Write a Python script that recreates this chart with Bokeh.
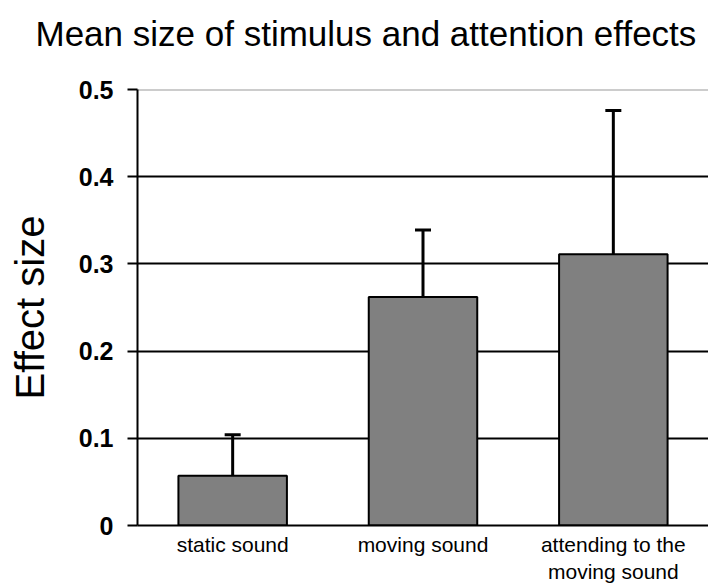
from bokeh.plotting import figure
from bokeh.models import ColumnDataSource, Whisker, TeeHead, FactorRange, Range1d, FixedTicker, Span, Title
from bokeh.embed import file_html
from bokeh.resources import INLINE

categories = ["static sound", "moving sound", "attending to the\nmoving sound"]
means = [0.057, 0.262, 0.311]
errors = [0.047, 0.077, 0.165]
y_ticks = [0, 0.1, 0.2, 0.3, 0.4, 0.5]
y_tick_labels = ["0", "0.1", "0.2", "0.3", "0.4", "0.5"]
title_text = "Mean size of stimulus and attention effects"
y_label_text = "Effect size"

upper = [m + e for m, e in zip(means, errors)]
src = ColumnDataSource(dict(cat=categories, mean=means, upper=upper))

p = figure(width=708, height=586, x_range=FactorRange(*categories, range_padding=0),
           y_range=Range1d(0, 0.5), output_backend="svg", toolbar_location=None,
           min_border_left=137, min_border_right=0, min_border_top=89, min_border_bottom=61)
p.title = None
# spacer panel next to the frame, then the real title above it
p.add_layout(Title(text=" ", text_font_size="2px", standoff=33), "above")
p.add_layout(Title(text=title_text, align="left", offset=-102,
                   text_font="Liberation Sans", text_font_size="35px", text_font_style="normal",
                   text_color="black", standoff=0), "above")

p.vbar(x="cat", top="mean", width=0.57, source=src, fill_color="#808080",
       line_color="black", line_width=2)
w = Whisker(base="cat", lower="mean", upper="upper", source=src, line_color="black", line_width=3,
            upper_head=TeeHead(size=16, line_width=3, line_color="black"), lower_head=None)
p.add_layout(w)

p.outline_line_color = None
p.xgrid.grid_line_color = None
p.ygrid.ticker = FixedTicker(ticks=[0.1, 0.2, 0.3, 0.4])
p.ygrid.grid_line_color = "black"
p.ygrid.grid_line_width = 2
p.add_layout(Span(location=0.5, dimension="width", line_color="#999999", line_width=2, level="underlay"))

p.yaxis.ticker = FixedTicker(ticks=y_ticks)
p.yaxis.major_label_overrides = {t: l for t, l in zip(y_ticks, y_tick_labels)}
p.yaxis.major_label_text_font = "Liberation Sans"
p.yaxis.major_label_text_font_style = "bold"
p.yaxis.major_label_text_font_size = "25px"
p.yaxis.major_label_text_color = "black"
p.yaxis.major_label_standoff = 14
p.yaxis.major_tick_out = 10
p.yaxis.major_tick_in = 0
p.yaxis.minor_tick_line_color = None
p.yaxis.major_tick_line_width = 2
p.yaxis.axis_line_width = 2
p.yaxis.axis_line_color = "black"
p.yaxis.axis_label = y_label_text
p.yaxis.axis_label_text_font = "Liberation Sans"
p.yaxis.axis_label_text_font_style = "normal"
p.yaxis.axis_label_text_font_size = "40px"
p.yaxis.axis_label_text_color = "black"
p.yaxis.axis_label_standoff = 24

p.xaxis.major_tick_line_color = None
p.xaxis.minor_tick_line_color = None
p.xaxis.axis_line_width = 2
p.xaxis.axis_line_color = "black"
p.xaxis.major_label_text_font = "Liberation Sans"
p.xaxis.major_label_text_font_size = "21px"
p.xaxis.major_label_text_color = "black"
p.xaxis.major_label_standoff = 1

open("out.html", "w").write(file_html(p, INLINE))
